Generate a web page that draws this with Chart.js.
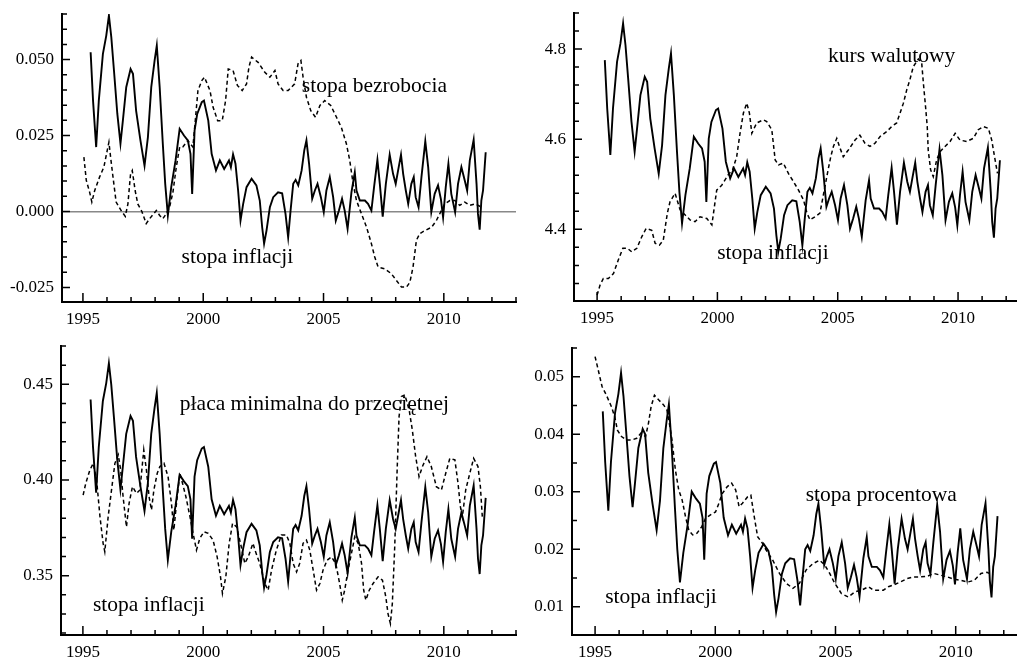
<!DOCTYPE html>
<html>
<head>
<meta charset="utf-8">
<script src="https://cdn.jsdelivr.net/npm/chart.js@4.4.1/dist/chart.umd.min.js"></script>
<style>
  html, body { margin: 0; padding: 0; background: #fff; }
  body { width: 1017px; height: 658px; position: relative; overflow: hidden; }
  canvas { position: absolute; }
</style>
</head>
<body>
<canvas id="c1" width="517" height="329" style="left:0;top:0"></canvas>
<canvas id="c2" width="500" height="329" style="left:517px;top:0"></canvas>
<canvas id="c3" width="517" height="329" style="left:0;top:329px"></canvas>
<canvas id="c4" width="500" height="329" style="left:517px;top:329px"></canvas>
<script>
const serif = '"Liberation Serif", "Times New Roman", serif';

// stopa inflacji (solid line, same series in all four panels)
const inflYear = [1995.32, 1995.42, 1995.55, 1995.66, 1995.83, 1995.97, 1996.08, 1996.18, 1996.29, 1996.43,
  1996.56, 1996.66, 1996.80, 1996.98, 1997.08, 1997.21, 1997.39, 1997.56, 1997.70, 1997.84,
  1997.98, 1998.07, 1998.19, 1998.32, 1998.42, 1998.53, 1998.67, 1998.85, 1999.02, 1999.20,
  1999.36, 1999.47, 1999.54, 1999.64, 1999.75, 1999.94, 2000.03, 2000.21, 2000.35, 2000.53,
  2000.69, 2000.87, 2001.07, 2001.15, 2001.24, 2001.34, 2001.45, 2001.55, 2001.66, 2001.80,
  2002.01, 2002.21, 2002.35, 2002.45, 2002.53, 2002.63, 2002.77, 2002.91, 2003.11, 2003.28,
  2003.42, 2003.53, 2003.63, 2003.74, 2003.84, 2003.95, 2004.09, 2004.20, 2004.29, 2004.40,
  2004.53, 2004.64, 2004.75, 2004.89, 2005.01, 2005.12, 2005.26, 2005.40, 2005.51, 2005.64,
  2005.77, 2005.88, 2006.00, 2006.16, 2006.30, 2006.37, 2006.51, 2006.72, 2006.85, 2006.99,
  2007.10, 2007.24, 2007.34, 2007.46, 2007.59, 2007.75, 2007.89, 2008.00, 2008.10, 2008.22,
  2008.31, 2008.42, 2008.52, 2008.65, 2008.75, 2008.83, 2008.95, 2009.07, 2009.23, 2009.35,
  2009.48, 2009.62, 2009.76, 2009.88, 2009.97, 2010.08, 2010.19, 2010.31, 2010.47, 2010.59,
  2010.73, 2010.87, 2010.97, 2011.08, 2011.24, 2011.36, 2011.42, 2011.49, 2011.56, 2011.63, 2011.74];
const inflVal = [0.0524, 0.0365, 0.0212, 0.0365, 0.0519, 0.0579, 0.0645, 0.0573, 0.0464, 0.0321,
  0.0223, 0.0299, 0.0409, 0.0469, 0.0453, 0.0332, 0.0234, 0.0151, 0.0244, 0.0409,
  0.0497, 0.0546, 0.0409, 0.0223, 0.0091, -0.0013, 0.0080, 0.0168, 0.0272, 0.0250,
  0.0234, 0.0190, 0.0058, 0.0266, 0.0321, 0.0360, 0.0365, 0.0299, 0.0190, 0.0135,
  0.0168, 0.0140, 0.0168, 0.0146, 0.0188, 0.0157, 0.0069, -0.0030, 0.0025, 0.0080,
  0.0108, 0.0086, 0.0036, -0.0052, -0.0106, -0.0063, 0.0014, 0.0047, 0.0063, 0.0060,
  -0.0008, -0.0085, 0.0003, 0.0091, 0.0104, 0.0086, 0.0135, 0.0201, 0.0234, 0.0157,
  0.0042, 0.0069, 0.0091, 0.0047, -0.0002, 0.0069, 0.0113, 0.0047, -0.0030, 0.0003,
  0.0042, 0.0003, -0.0057, 0.0063, 0.0129, 0.0069, 0.0036, 0.0036, 0.0025, 0.0003,
  0.0080, 0.0170, 0.0091, -0.0017, 0.0091, 0.0187, 0.0124, 0.0091, 0.0135, 0.0187,
  0.0124, 0.0069, 0.0025, 0.0091, 0.0113, 0.0047, 0.0014, 0.0113, 0.0231, 0.0146,
  -0.0002, 0.0058, 0.0086, 0.0040, -0.0019, 0.0080, 0.0157, 0.0058, -0.0002, 0.0091,
  0.0146, 0.0102, 0.0069, 0.0168, 0.0236, 0.0091, -0.0008, -0.0060, 0.0036, 0.0069, 0.0195];

// stopa bezrobocia (panel 1, dashed)
const unempYear = [1995.04, 1995.14, 1995.28, 1995.37, 1995.49, 1995.69, 1995.87, 1996.01, 1996.08, 1996.15,
  1996.25, 1996.38, 1996.59, 1996.76, 1996.87, 1996.98, 1997.05, 1997.17, 1997.28, 1997.45,
  1997.63, 1997.77, 1998.05, 1998.19, 1998.32, 1998.46, 1998.60, 1998.74, 1998.88, 1999.02,
  1999.15, 1999.36, 1999.57, 1999.67, 1999.78, 1999.94, 2000.05, 2000.28, 2000.41, 2000.60,
  2000.79, 2000.93, 2001.04, 2001.24, 2001.42, 2001.62, 2001.80, 2001.90, 2002.01, 2002.28,
  2002.56, 2002.77, 2002.98, 2003.11, 2003.32, 2003.53, 2003.80, 2003.94, 2004.06, 2004.15,
  2004.29, 2004.47, 2004.67, 2004.85, 2005.05, 2005.30, 2005.54, 2005.74, 2005.95, 2006.09,
  2006.23, 2006.37, 2006.58, 2006.79, 2006.99, 2007.13, 2007.27, 2007.55, 2007.82, 2008.03,
  2008.24, 2008.45, 2008.59, 2008.72, 2008.86, 2009.00, 2009.21, 2009.49, 2009.69, 2009.90,
  2010.04, 2010.25, 2010.46, 2010.66, 2010.87, 2011.08, 2011.30, 2011.55];
const unempVal = [0.0179, 0.0102, 0.0063, 0.0031, 0.0069, 0.0113, 0.0146, 0.0201, 0.0228, 0.0179,
  0.0113, 0.0031, 0.0003, -0.0016, 0.0025, 0.0124, 0.0135, 0.0069, 0.0025, 0.0000,
  -0.0040, -0.0024, 0.0003, -0.0013, -0.0024, -0.0008, 0.0014, 0.0063, 0.0146, 0.0212,
  0.0212, 0.0234, 0.0212, 0.0299, 0.0398, 0.0431, 0.0442, 0.0398, 0.0343, 0.0299,
  0.0299, 0.0365, 0.0469, 0.0464, 0.0415, 0.0398, 0.0420, 0.0475, 0.0508, 0.0491,
  0.0458, 0.0442, 0.0464, 0.0420, 0.0398, 0.0398, 0.0420, 0.0486, 0.0497, 0.0442,
  0.0376, 0.0332, 0.0310, 0.0349, 0.0365, 0.0349, 0.0310, 0.0277, 0.0223, 0.0168,
  0.0091, 0.0036, -0.0008, -0.0052, -0.0106, -0.0150, -0.0183, -0.0189, -0.0205, -0.0227,
  -0.0249, -0.0249, -0.0233, -0.0183, -0.0095, -0.0073, -0.0063, -0.0052, -0.0030, 0.0003,
  0.0025, 0.0036, 0.0036, 0.0020, 0.0031, 0.0020, 0.0025, 0.0015];

// kurs walutowy (panel 2, dashed)
const fxYear = [1995.00, 1995.12, 1995.26, 1995.47, 1995.68, 1995.88, 1996.07, 1996.26, 1996.44, 1996.65,
  1996.86, 1997.04, 1997.27, 1997.41, 1997.59, 1997.75, 1997.92, 1998.03, 1998.24, 1998.45,
  1998.66, 1998.86, 1999.07, 1999.28, 1999.56, 1999.77, 1999.97, 2000.18, 2000.45, 2000.63,
  2000.80, 2000.94, 2001.08, 2001.22, 2001.33, 2001.43, 2001.63, 2001.91, 2002.05, 2002.26,
  2002.40, 2002.54, 2002.74, 2002.95, 2003.16, 2003.37, 2003.58, 2003.72, 2003.85, 2004.06,
  2004.26, 2004.47, 2004.60, 2004.71, 2004.82, 2004.96, 2005.07, 2005.23, 2005.44, 2005.72,
  2005.92, 2006.13, 2006.34, 2006.55, 2006.76, 2007.04, 2007.24, 2007.45, 2007.59, 2007.73,
  2007.87, 2008.00, 2008.14, 2008.35, 2008.49, 2008.56, 2008.65, 2008.72, 2008.76, 2008.86,
  2008.97, 2009.11, 2009.25, 2009.46, 2009.67, 2009.88, 2010.08, 2010.36, 2010.64, 2010.84,
  2011.05, 2011.26, 2011.40, 2011.54, 2011.64];
const fxVal = [4.254, 4.276, 4.291, 4.291, 4.302, 4.332, 4.358, 4.358, 4.350, 4.358,
  4.384, 4.402, 4.398, 4.369, 4.365, 4.376, 4.436, 4.461, 4.480, 4.443,
  4.432, 4.421, 4.417, 4.428, 4.424, 4.410, 4.487, 4.498, 4.521, 4.532,
  4.561, 4.613, 4.658, 4.680, 4.658, 4.613, 4.636, 4.643, 4.639, 4.621,
  4.554, 4.543, 4.547, 4.524, 4.506, 4.487, 4.465, 4.436, 4.421, 4.428,
  4.436, 4.495, 4.532, 4.561, 4.584, 4.602, 4.584, 4.561, 4.576, 4.598,
  4.609, 4.591, 4.584, 4.591, 4.606, 4.617, 4.628, 4.636, 4.658, 4.680,
  4.710, 4.732, 4.761, 4.778, 4.769, 4.724, 4.672, 4.628, 4.576, 4.532,
  4.517, 4.554, 4.572, 4.584, 4.595, 4.613, 4.598, 4.595, 4.602, 4.621,
  4.628, 4.624, 4.598, 4.554, 4.524];

// płaca minimalna do przeciętnej (panel 3, dashed)
const wageYear = [1995.01, 1995.12, 1995.29, 1995.43, 1995.57, 1995.71, 1995.84, 1995.91, 1996.05, 1996.19,
  1996.33, 1996.47, 1996.57, 1996.67, 1996.81, 1996.92, 1997.06, 1997.23, 1997.37, 1997.53,
  1997.64, 1997.75, 1997.85, 1997.95, 1998.09, 1998.20, 1998.37, 1998.54, 1998.68, 1998.78,
  1998.89, 1999.03, 1999.14, 1999.28, 1999.45, 1999.58, 1999.72, 1999.86, 2000.03, 2000.21,
  2000.41, 2000.58, 2000.72, 2000.80, 2000.94, 2001.08, 2001.22, 2001.39, 2001.55, 2001.73,
  2001.87, 2002.07, 2002.15, 2002.35, 2002.56, 2002.70, 2002.84, 2003.04, 2003.25, 2003.46,
  2003.60, 2003.74, 2003.88, 2004.01, 2004.15, 2004.29, 2004.43, 2004.57, 2004.71, 2004.85,
  2004.98, 2005.15, 2005.33, 2005.51, 2005.67, 2005.78, 2005.88, 2006.02, 2006.16, 2006.30,
  2006.44, 2006.58, 2006.67, 2006.76, 2006.90, 2007.06, 2007.27, 2007.45, 2007.59, 2007.68,
  2007.78, 2007.86, 2007.96, 2008.06, 2008.14, 2008.24, 2008.38, 2008.56, 2008.69, 2008.83,
  2008.97, 2009.11, 2009.30, 2009.48, 2009.69, 2009.90, 2010.08, 2010.25, 2010.46, 2010.59,
  2010.69, 2010.77, 2010.91, 2011.08, 2011.24, 2011.42, 2011.52, 2011.60];
const wageVal = [0.3921, 0.3983, 0.4052, 0.4087, 0.4000, 0.3808, 0.3669, 0.3625, 0.3808, 0.3948,
  0.4087, 0.4131, 0.4052, 0.3913, 0.3755, 0.3878, 0.3965, 0.3930, 0.3948, 0.4157,
  0.4052, 0.3913, 0.3843, 0.3948, 0.4035, 0.4070, 0.4087, 0.4017, 0.3878, 0.3738,
  0.3878, 0.4035, 0.3983, 0.3913, 0.3808, 0.3721, 0.3634, 0.3695, 0.3729, 0.3721,
  0.3686, 0.3598, 0.3494, 0.3407, 0.3494, 0.3669, 0.3773, 0.3755, 0.3669, 0.3564,
  0.3598, 0.3669, 0.3634, 0.3564, 0.3459, 0.3424, 0.3529, 0.3634, 0.3712, 0.3712,
  0.3669, 0.3564, 0.3520, 0.3564, 0.3669, 0.3686, 0.3634, 0.3529, 0.3424, 0.3459,
  0.3529, 0.3581, 0.3598, 0.3564, 0.3459, 0.3372, 0.3424, 0.3529, 0.3616, 0.3703,
  0.3669, 0.3564, 0.3424, 0.3372, 0.3424, 0.3459, 0.3494, 0.3476, 0.3389, 0.3302,
  0.3250, 0.3354, 0.3651, 0.4052, 0.4331, 0.4436, 0.4445, 0.4366, 0.4262, 0.4122,
  0.4017, 0.4070, 0.4122, 0.4070, 0.3965, 0.3948, 0.4035, 0.4113, 0.4105, 0.3983,
  0.3860, 0.3808, 0.3948, 0.4035, 0.4113, 0.4070, 0.3965, 0.3808];

// stopa procentowa (panel 4, dashed)
const rateYear = [1995.00, 1995.13, 1995.29, 1995.47, 1995.68, 1995.82, 1995.93, 1996.10, 1996.31, 1996.52,
  1996.73, 1996.91, 1997.10, 1997.22, 1997.33, 1997.47, 1997.64, 1997.85, 1997.99, 1998.09,
  1998.20, 1998.34, 1998.48, 1998.62, 1998.76, 1998.90, 1999.06, 1999.24, 1999.43, 1999.60,
  1999.80, 2000.01, 2000.15, 2000.29, 2000.50, 2000.68, 2000.85, 2000.99, 2001.13, 2001.34,
  2001.48, 2001.62, 2001.76, 2001.97, 2002.11, 2002.39, 2002.67, 2002.95, 2003.23, 2003.50,
  2003.78, 2004.06, 2004.34, 2004.55, 2004.76, 2004.97, 2005.25, 2005.53, 2005.81, 2006.09,
  2006.37, 2006.58, 2006.78, 2006.99, 2007.20, 2007.41, 2007.69, 2007.97, 2008.25, 2008.53,
  2008.81, 2009.09, 2009.37, 2009.65, 2009.93, 2010.21, 2010.49, 2010.77, 2011.05, 2011.30, 2011.55];
const rateVal = [0.0535, 0.0512, 0.0483, 0.0468, 0.0448, 0.0430, 0.0407, 0.0396, 0.0390, 0.0390,
  0.0393, 0.0402, 0.0396, 0.0419, 0.0448, 0.0468, 0.0460, 0.0451, 0.0442, 0.0419,
  0.0390, 0.0338, 0.0303, 0.0286, 0.0257, 0.0233, 0.0225, 0.0228, 0.0239, 0.0254,
  0.0260, 0.0265, 0.0280, 0.0297, 0.0309, 0.0315, 0.0303, 0.0274, 0.0280, 0.0291,
  0.0294, 0.0257, 0.0222, 0.0210, 0.0199, 0.0181, 0.0158, 0.0141, 0.0132, 0.0141,
  0.0164, 0.0175, 0.0181, 0.0173, 0.0158, 0.0141, 0.0123, 0.0117, 0.0126, 0.0129,
  0.0135, 0.0129, 0.0129, 0.0129, 0.0135, 0.0138, 0.0143, 0.0149, 0.0152, 0.0152,
  0.0153, 0.0158, 0.0155, 0.0152, 0.0148, 0.0146, 0.0143, 0.0146, 0.0158, 0.0160, 0.0155];

// tick labels
const yearLabels = [1995, 2000, 2005, 2010];
const p1Labels = [-0.025, 0, 0.025, 0.05];
const p2Labels = [4.4, 4.6, 4.8];
const p3Labels = [0.35, 0.40, 0.45];
const p4Labels = [0.01, 0.02, 0.03, 0.04, 0.05];

function pts(xs, ys) { return xs.map((x, i) => ({ x: x, y: ys[i] })); }
function near(v, list) { return list.some(l => Math.abs(l - v) < 1e-7); }
function stepTicks(lo, hi, step) {
  const out = [];
  for (let k = Math.ceil(lo / step - 1e-9); k * step <= hi + 1e-9; k++) out.push({ value: +(k * step).toFixed(6) });
  return out;
}
function noPad(s) { s.paddingLeft = 0; s.paddingRight = 0; s.paddingTop = 0; s.paddingBottom = 0; }

// ticks pointing into the plot, long for labelled values
const innerTicks = {
  id: 'innerTicks',
  afterDraw(chart, args, opts) {
    const ctx = chart.ctx, a = chart.chartArea;
    const x = chart.scales.x, y = chart.scales.y;
    ctx.save();
    ctx.strokeStyle = '#000';
    ctx.lineWidth = 1.5;
    ctx.beginPath();
    x.ticks.forEach(t => {
      const px = x.getPixelForValue(t.value);
      ctx.moveTo(px, a.bottom);
      ctx.lineTo(px, a.bottom - (near(t.value, yearLabels) ? 9 : 5));
    });
    y.ticks.forEach(t => {
      const py = y.getPixelForValue(t.value);
      ctx.moveTo(a.left, py);
      ctx.lineTo(a.left + (near(t.value, opts.yMajor) ? 8 : 5), py);
    });
    ctx.stroke();
    ctx.restore();
  }
};

const textLabels = {
  id: 'textLabels',
  afterDatasetsDraw(chart, args, opts) {
    const ctx = chart.ctx;
    ctx.save();
    ctx.font = '21.5px ' + serif;
    ctx.fillStyle = '#000';
    ctx.textAlign = 'left';
    ctx.textBaseline = 'middle';
    opts.items.forEach(it => {
      ctx.fillText(it.text, chart.scales.x.getPixelForValue(it.x), chart.scales.y.getPixelForValue(it.y));
    });
    ctx.restore();
  }
};

function panel(id, p) {
  new Chart(document.getElementById(id), {
    type: 'line',
    data: {
      datasets: [
        { data: pts(inflYear, inflVal), yAxisID: 'y2', borderColor: '#000', borderWidth: 1.9, pointRadius: 0, tension: 0, fill: false },
        { data: pts(p.xs, p.ys), yAxisID: 'y', borderColor: '#000', borderWidth: 1.5, borderDash: [4, 3], pointRadius: 0, tension: 0, fill: false }
      ]
    },
    options: {
      responsive: false,
      animation: false,
      devicePixelRatio: 1,
      layout: { padding: p.pad, autoPadding: false },
      plugins: {
        legend: { display: false },
        tooltip: { enabled: false },
        innerTicks: { yMajor: p.yMajor },
        textLabels: { items: p.labels }
      },
      scales: {
        x: {
          type: 'linear', min: p.xMin, max: p.xMax,
          afterBuildTicks: s => { s.ticks = stepTicks(s.min, s.max, 1); },
          afterFit: s => { s.height = p.xH; noPad(s); },
          border: { display: true, color: '#000', width: 2 },
          grid: { display: false, drawTicks: false },
          ticks: { autoSkip: false, maxRotation: 0, color: '#000', padding: 7, font: { family: serif, size: 17 },
            callback: v => near(v, yearLabels) ? String(v) : '' }
        },
        y: {
          min: p.yMin, max: p.yMax,
          afterBuildTicks: s => { s.ticks = stepTicks(s.min, s.max, p.yStep); },
          afterFit: s => { s.width = p.yW; noPad(s); },
          border: { display: true, color: '#000', width: 2 },
          grid: p.zero
            ? { display: true, drawTicks: false, lineWidth: 1.5, color: c => Math.abs(c.tick.value) < 1e-9 ? '#888' : 'rgba(0,0,0,0)' }
            : { display: false, drawTicks: false },
          ticks: { autoSkip: false, color: '#000', padding: 8, font: { family: serif, size: 17 },
            callback: v => near(v, p.yMajor) ? v.toFixed(p.dec) : '' }
        },
        y2: { display: false, min: p.iMin, max: p.iMax }
      }
    },
    plugins: [innerTicks, textLabels]
  });
}

panel('c1', {
  xs: unempYear, ys: unempVal, pad: { top: 14, right: 1, left: 0, bottom: 0 }, xH: 27, yW: 62,
  xMin: 1994.13, xMax: 2013.0, yMin: -0.0298, yMax: 0.065, yStep: 0.005, yMajor: p1Labels, dec: 3,
  iMin: -0.0298, iMax: 0.065, zero: true,
  labels: [{ text: 'stopa bezrobocia', x: 2004.1, y: 0.0411 }, { text: 'stopa inflacji', x: 1999.1, y: -0.0151 }]
});
panel('c2', {
  xs: fxYear, ys: fxVal, pad: { top: 13, right: 0, left: 0, bottom: 0 }, xH: 28, yW: 57,
  xMin: 1994.04, xMax: 2012.45, yMin: 4.241, yMax: 4.88, yStep: 0.04, yMajor: p2Labels, dec: 1,
  iMin: -0.0268, iMax: 0.0679, zero: false,
  labels: [{ text: 'kurs walutowy', x: 2004.6, y: 4.783 }, { text: 'stopa inflacji', x: 1999.99, y: 4.347 }]
});
panel('c3', {
  xs: wageYear, ys: wageVal, pad: { top: 17, right: 1, left: 0, bottom: 0 }, xH: 23, yW: 61,
  xMin: 1994.09, xMax: 2013.0, yMin: 0.319, yMax: 0.47, yStep: 0.01, yMajor: p3Labels, dec: 2,
  iMin: -0.0264, iMax: 0.0703, zero: false,
  labels: [{ text: 'płaca minimalna do przeciętnej', x: 1999.03, y: 0.4393 }, { text: 'stopa inflacji', x: 1995.42, y: 0.3346 }]
});
panel('c4', {
  xs: rateYear, ys: rateVal, pad: { top: 19, right: 0, left: 0, bottom: 0 }, xH: 23, yW: 55,
  xMin: 1994.04, xMax: 2012.55, yMin: 0.0051, yMax: 0.055, yStep: 0.005, yMajor: p4Labels, dec: 2,
  iMin: -0.0178, iMax: 0.0723, zero: false,
  labels: [{ text: 'stopa procentowa', x: 2003.76, y: 0.0294 }, { text: 'stopa inflacji', x: 1995.42, y: 0.0117 }]
});
</script>
</body>
</html>
